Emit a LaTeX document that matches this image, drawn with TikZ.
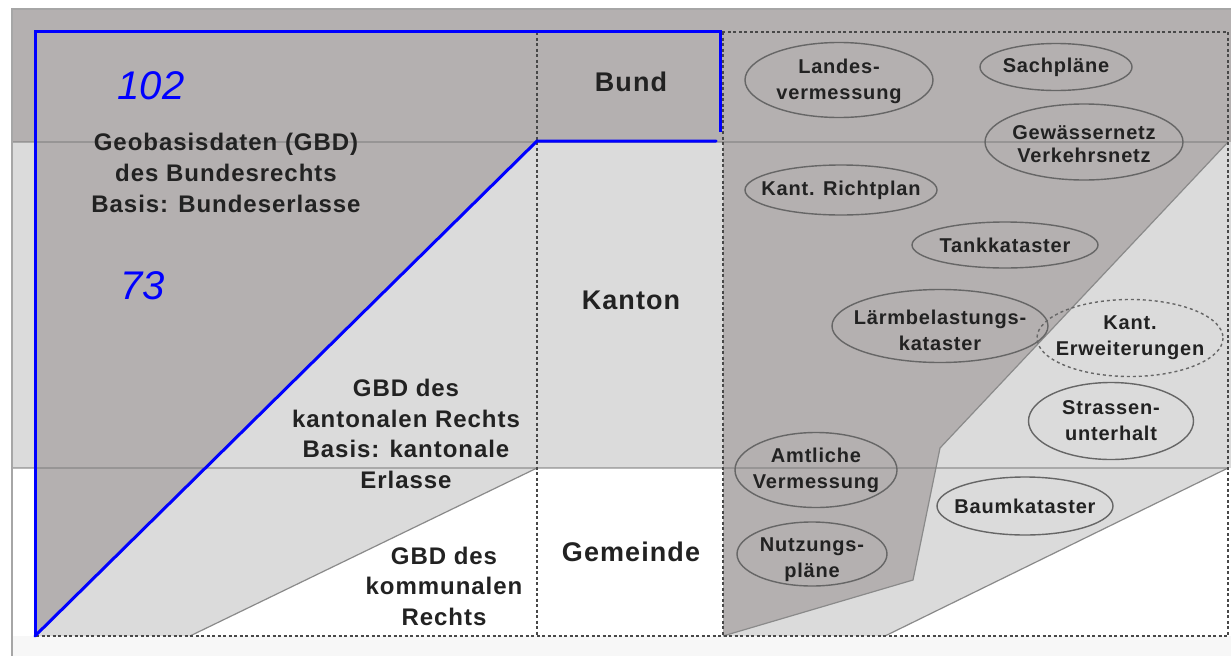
\documentclass[tikz,border=0pt]{standalone}
\usepackage{fontspec}
\setmainfont{Liberation Sans}
\newfontfamily\lsf[LetterSpace=4]{Liberation Sans}
\usetikzlibrary{shapes.geometric}
\definecolor{darkg}{HTML}{B4B0B0}
\definecolor{lightg}{HTML}{DBDBDB}
\definecolor{edgeg}{HTML}{8A8A8A}
\definecolor{txt}{HTML}{222222}
\definecolor{ellg}{HTML}{666666}
\definecolor{blu}{HTML}{0000FF}
\definecolor{dotg}{HTML}{484848}
\begin{document}
\begin{tikzpicture}[x=1pt,y=-1pt,
  lbl/.style={font=\lsf\fontsize{24}{30.5}\selectfont\bfseries, text=txt, align=center, inner sep=0},
  lvl/.style={font=\lsf\fontsize{27}{30}\selectfont\bfseries, text=txt, inner sep=0},
  etxt/.style={inner sep=0, font=\lsf\fontsize{20}{26}\selectfont\bfseries, text=txt, align=center},
  eline/.style={draw=ellg, line width=1.4pt},
  num/.style={font=\fontsize{40}{40}\selectfont\itshape, text=blu, inner sep=0},
  dotframe/.style={draw=dotg, line width=1.8pt, dash pattern=on 3pt off 2.5pt},
  sepline/.style={draw=gray, line width=1.6pt, opacity=0.55},
  edgeline/.style={draw=edgeg, line width=1.2pt},
  blueline/.style={draw=blu, line width=3pt}]
\useasboundingbox (0,0) rectangle (1231,656);
\fill[white] (0,0) rectangle (1231,656);
% bands
\fill[darkg] (12,9) rectangle (1231,142);
\fill[lightg] (12,142) rectangle (1231,468);
\fill[white!97!black] (12,636) rectangle (1231,656);
% left column
\fill[lightg] (35,468) -- (537,468) -- (190,636) -- (35,636) -- cycle;
\fill[darkg] (35,32) -- (723,32) -- (723,142) -- (537,142) -- (35,636) -- cycle;
% right column
\fill[lightg] (723,468) -- (1228,468) -- (885,636) -- (723,636) -- cycle;
\fill[darkg] (723,32) -- (1228,32) -- (1228,142) -- (940,448) -- (913,580) -- (723,636) -- cycle;
% edges
\draw[edgeline] (537,468) -- (190,636);
\draw[edgeline] (1228,468) -- (885,636);
\draw[edgeline] (1228,142) -- (940,448) -- (913,580) -- (723,636);
% separators
\draw[sepline] (12,142) -- (1228,142);
\draw[sepline] (12,468) -- (1228,468);
% outer border
\draw[gray!70, line width=1.6pt] (12,656) -- (12,9) -- (1231,9);
% dotted frame
\draw[dotframe] (35,32) rectangle (1228,636);
\draw[dotframe] (537,32) -- (537,636);
\draw[dotframe] (723,32) -- (723,636);
% blue lines
\draw[blueline] (720,132) -- (720,31) -- (35,31) -- (35,634);
\draw[blueline, line cap=round] (35,636) -- (537,141) -- (716,141);
% labels
\node[num] (n102) at (151,86) {102};
\node[num] (n73) at (143,286) {73};
\node[lbl, font=\lsf\fontsize{24}{31}\selectfont\bfseries] (gbdbund) at (226,173) {Geobasisdaten (GBD)\\des Bundesrechts\\Basis: Bundeserlasse};
\node[lbl] (gbdkant) at (406,434) {GBD des\\kantonalen Rechts\\Basis: kantonale\\Erlasse};
\node[lbl] (gbdkomm) at (444,586) {GBD des\\kommunalen\\Rechts};
\node[lvl] (bund) at (631,82) {Bund};
\node[lvl] (kanton) at (631,300) {Kanton};
\node[lvl] (gemeinde) at (631,552) {Gemeinde};
% ellipses: text nodes
\node[etxt] (landes) at (839,81) {Landes-\\vermessung};
\node[etxt] (sach) at (1056,67) {Sachpläne};
\node[etxt, font=\lsf\fontsize{20}{23}\selectfont\bfseries] (gew) at (1084,144) {Gewässernetz\\Verkehrsnetz};
\node[etxt] (richt) at (841,190) {Kant. Richtplan};
\node[etxt] (tank) at (1005,245) {Tankkataster};
\node[etxt] (laerm) at (940,330) {Lärmbelastungs-\\kataster};
\node[etxt] (erw) at (1130,338) {Kant.\\Erweiterungen};
\node[etxt] (strassen) at (1111,421) {Strassen-\\unterhalt};
\node[etxt] (amtl) at (816,470) {Amtliche\\Vermessung};
\node[etxt] (baum) at (1025,506) {Baumkataster};
\node[etxt] (nutz) at (812,560) {Nutzungs-\\pläne};
% ellipses: outlines
\draw[eline] (839,80) ellipse [x radius=94, y radius=37.5];
\draw[eline] (sach.center) ellipse [x radius=76, y radius=23.5];
\draw[eline] (1084,142) ellipse [x radius=99, y radius=38];
\draw[eline] (richt.center) ellipse [x radius=96, y radius=25];
\draw[eline] (tank.center) ellipse [x radius=93, y radius=23];
\draw[eline] (940,326) ellipse [x radius=108, y radius=36.5];
\draw[eline, dashed] (erw.center) ellipse [x radius=93, y radius=38.5];
\draw[eline] (strassen.center) ellipse [x radius=82.5, y radius=38.5];
\draw[eline] (amtl.center) ellipse [x radius=81, y radius=37.5];
\draw[eline] (baum.center) ellipse [x radius=88, y radius=29];
\draw[eline] (812,554) ellipse [x radius=75, y radius=32];
\end{tikzpicture}
\end{document}
